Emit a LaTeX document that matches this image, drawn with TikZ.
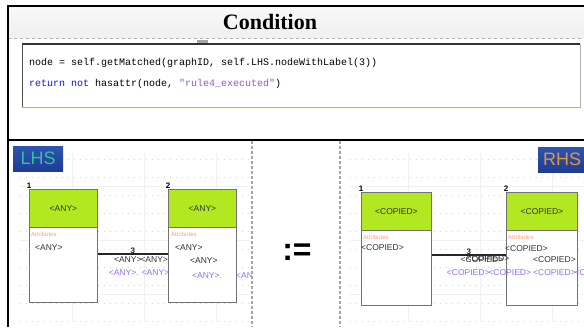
\documentclass[tikz,border=0pt]{standalone}
\usepackage{fontspec}
\setmainfont{Liberation Serif}
\setsansfont{Liberation Sans}
\setmonofont{Liberation Mono}
\usetikzlibrary{positioning}

\definecolor{headgreen}{RGB}{178,232,32}
\definecolor{attrorange}{RGB}{250,165,125}
\definecolor{edgepurple}{RGB}{150,110,235}
\definecolor{codeblue}{RGB}{20,20,225}
\definecolor{codepurple}{RGB}{140,90,210}
\definecolor{txtgray}{RGB}{50,50,50}
\definecolor{logoblue}{RGB}{45,85,175}
\definecolor{logodark}{RGB}{30,60,150}
\definecolor{logoteal}{RGB}{50,195,155}
\definecolor{logogold}{RGB}{225,150,60}

\begin{document}
\begin{tikzpicture}
      [ x=1pt, y=-1pt
      , frame/.style={black, line width=2pt}
      , divider/.style={gray!70, line width=1.2pt, dash pattern=on 3pt off 2pt}
      , griddot/.style={gray!35, line width=0.6pt, dash pattern=on 1pt off 5pt}
      , gridline/.style={gray!12, line width=0.5pt}
      , codebox/.style={draw=gray!60, fill=white, inner sep=0pt, minimum width=558pt, minimum height=63pt, anchor=north west}
      , codeline/.style={anchor=base west, inner sep=0pt, font=\ttfamily\fontsize{10}{12}\selectfont}
      , entbody/.style={draw=black!55, line width=0.9pt, fill=white, inner sep=0pt, minimum width=68pt, minimum height=113pt, anchor=north west}
      , enthead/.style={draw=black!55, line width=0.9pt, fill=headgreen, inner sep=0pt, minimum width=68pt, minimum height=38pt, anchor=north west, text=txtgray, font=\sffamily\fontsize{8.5}{10}\selectfont}
      , numlbl/.style={anchor=south, inner sep=0.5pt, font=\sffamily\bfseries\fontsize{8}{9}\selectfont}
      , attrlbl/.style={anchor=north west, inner sep=0pt, text=attrorange, font=\sffamily\fontsize{6}{7}\selectfont}
      , bodytxt/.style={anchor=west, inner sep=0pt, text=txtgray, font=\sffamily\fontsize{8.5}{10}\selectfont}
      , purptxt/.style={anchor=west, inner sep=0pt, text=edgepurple, font=\sffamily\fontsize{8.5}{10}\selectfont}
      , assoc/.style={black!85, line width=1.4pt}
      , logo/.style={anchor=north west, inner sep=0pt, minimum height=25pt, font=\sffamily\fontsize{18}{19}\selectfont}
      ]
    \useasboundingbox (0,0) rectangle (584,327);

    % header
    \fill[top color=gray!5, bottom color=gray!12] (8,6) rectangle (584,38);
    \draw[gray!60, dashed] (8,38) -- (584,38);
    \node[font=\bfseries\fontsize{22}{24}\selectfont] (title) at (270,22) {Condition};

    % condition code
    \fill[black!8!yellow!10] (24,105) rectangle (582,110);
    \node[codebox] (code) at (22,44) {};
    \draw[black!80, line width=1.6pt] (code.north west) -- (code.north east);
    \draw[black!70, line width=1pt] (code.north west) -- (code.south west);
    \fill[gray!70] (197,40) rectangle (208,43);
    \node[codeline] (ln1) at ([xshift=7pt, yshift=-21pt]code.north west)
      {node = self.getMatched(graphID, self.LHS.nodeWithLabel(3))};
    \node[codeline, below=21pt of ln1.base west, anchor=base west] (ln2)
      {\textcolor{codeblue}{return not} hasattr(node, \textcolor{codepurple}{"rule4\_executed"})};

    % LHS
    \begin{scope}
    \clip (9,141) rectangle (251,327);
    \foreach \gx in {72,144,216} \draw[gridline] (\gx,152) -- (\gx,322);
    \foreach \gy in {186,240,294} \draw[gridline] (20,\gy) -- (250,\gy);
    \foreach \gy in {159,177,...,321} \draw[griddot] (20,\gy) -- (250,\gy);

    \node[entbody] (l1) at (29,189) {};
    \node[enthead] (l1h) at (l1.north west) {\textless ANY\textgreater};
    \node[entbody] (l2) at (168,189) {};
    \node[enthead] (l2h) at (l2.north west) {\textless ANY\textgreater};
    \node[numlbl] (n1) at (l1.north west) {1};
    \node[numlbl] (n2) at (l2.north west) {2};

    \node[attrlbl] (a1) at ([xshift=2pt, yshift=-4pt]l1h.south west) {Attributes};
    \node[bodytxt] (v1) at (35,248) {\textless ANY\textgreater};
    \node[attrlbl] (a2) at ([xshift=3pt, yshift=-4pt]l2h.south west) {Attributes};
    \node[bodytxt] (v2) at (175,248) {\textless ANY\textgreater};
    \node[bodytxt] (v3) at (190,261) {\textless ANY\textgreater};
    \node[purptxt] (v4) at (192,276) {\textless ANY\textgreater.};
    \node[purptxt] (v5) at (236,276) {\textless ANY\textgreater};

    \draw[assoc] ([yshift=-8pt]l1.east) -- ([yshift=-8pt]l2.west)
      node[midway, above=-1pt, numlbl] (n3) {3};
    \node[bodytxt, anchor=center] (e1) at (141,260) {\textless ANY\textgreater\kern-1pt\textless ANY\textgreater};
    \node[purptxt, anchor=center] (e2) at (139,273) {\textless ANY\textgreater. \textless ANY\textgreater};
    \end{scope}
    \node[logo, top color=logoblue, bottom color=logodark, text=logoteal] (lhs) at (13,146) {\makebox[50pt]{LHS}};

    % :=
    \node[font=\sffamily\bfseries\fontsize{32}{34}\selectfont] (assign) at (297,252) {:=};

    % RHS
    \begin{scope}
    \clip (341,141) rectangle (584,327);
    \foreach \gx in {408,480,552} \draw[gridline] (\gx,152) -- (\gx,322);
    \foreach \gy in {186,240,294} \draw[gridline] (350,\gy) -- (584,\gy);
    \foreach \gy in {159,177,...,321} \draw[griddot] (350,\gy) -- (584,\gy);

    \node[entbody, minimum width=70pt] (r1) at (361,192) {};
    \node[enthead, minimum width=70pt] (r1h) at (r1.north west) {\textless COPIED\textgreater};
    \node[entbody, minimum width=71pt] (r2) at (506,192) {};
    \node[enthead, minimum width=71pt] (r2h) at (r2.north west) {\textless COPIED\textgreater};
    \node[numlbl] (m1) at (r1.north west) {1};
    \node[numlbl] (m2) at (r2.north west) {2};

    \node[attrlbl] (b1) at ([xshift=2pt, yshift=-4pt]r1h.south west) {Attributes};
    \node[bodytxt] (w1) at (361,248) {\textless COPIED\textgreater};
    \node[attrlbl] (b2) at ([xshift=2pt, yshift=-4pt]r2h.south west) {Attributes};
    \node[bodytxt] (w2) at (505,249) {\textless COPIED\textgreater};
    \node[bodytxt] (w3) at (533,260) {\textless COPIED\textgreater};
    \node[purptxt] (w4) at (533,273) {\textless COPIED\textgreater\kern-1pt\textless COPIED\textgreater};

    \draw[assoc] ([yshift=-6pt]r1.east) -- ([yshift=-6pt]r2.west)
      node[midway, above=-1pt, numlbl] (m3) {3};
    \node[bodytxt, anchor=center] (f1) at (482,260) {\textless COPIED\textgreater};
    \node[bodytxt, anchor=center] (f2) at (488,259) {\textless COPIED\textgreater};
    \node[purptxt, anchor=center] (f3) at (489,273) {\textless COPIED\textgreater\kern-1pt\textless COPIED\textgreater};
    \end{scope}
    \node[logo, top color=logoblue, bottom color=logodark, text=logogold, minimum width=48pt] (rhs) at (538,147) {\makebox[48pt]{RHS}};

    % dividers and frame
    \draw[divider] (252,141) -- (252,327);
    \draw[divider] (340,141) -- (340,327);
    \draw[frame] (8,327) -- (8,6) -- (584,6);
    \draw[frame] (8,140) -- (584,140);
\end{tikzpicture}
\end{document}
